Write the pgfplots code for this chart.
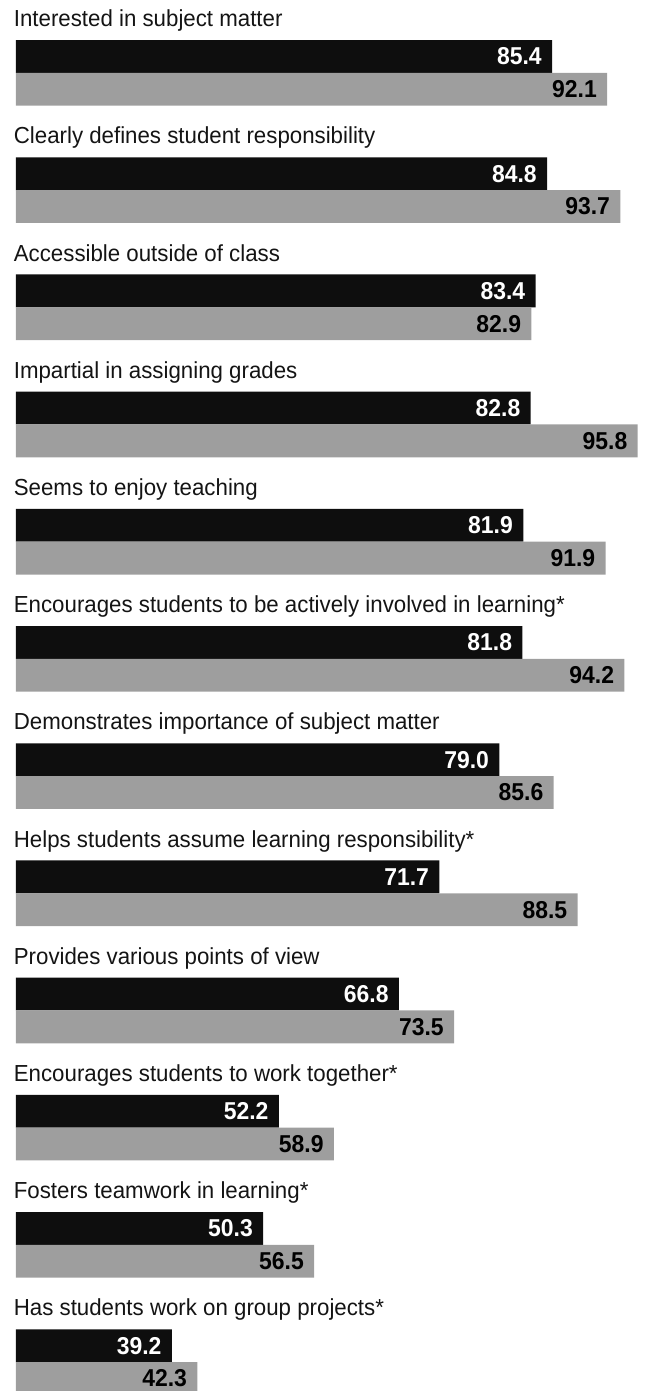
\documentclass[border=0pt]{standalone}
\usepackage{fontspec}
\setmainfont{Liberation Sans}
\newfontfamily\labfont{Liberation Sans}[FakeStretch=0.96]
\newfontfamily\numfont{Liberation Sans}[FakeStretch=0.94]
\usepackage{pgfplots}
\pgfplotsset{compat=1.18}
\definecolor{barblack}{HTML}{0E0E0E}
\definecolor{bargray}{HTML}{9E9E9E}
\definecolor{txt}{HTML}{141414}
\begin{document}
\begin{tikzpicture}
\begin{axis}[
    scale only axis,
    width=313.5pt, height=695.5pt,
    xbar, bar width=0.28,
    xmin=20.27, xmax=96.45,
    ymin=-0.482, ymax=11.387,
    y dir=reverse,
    xtick=\empty,
    ytick={0,...,11},
    yticklabels={
        Interested in subject matter,
        Clearly defines student responsibility,
        Accessible outside of class,
        Impartial in assigning grades,
        Seems to enjoy teaching,
        Encourages students to be actively involved in learning*,
        Demonstrates importance of subject matter,
        Helps students assume learning responsibility*,
        Provides various points of view,
        Encourages students to work together*,
        Fosters teamwork in learning*,
        Has students work on group projects*},
    yticklabel style={anchor=base west, inner sep=0pt, xshift=3pt, yshift=14.9pt,
        text=txt, font=\labfont\fontsize{11.6}{12}\selectfont},
    axis line style={draw=none},
    tick style={draw=none},
    point meta=x,
    nodes near coords,
    /pgf/number format/fixed,
    /pgf/number format/fixed zerofill,
    /pgf/number format/precision=1,
    /pgf/number format/assume math mode=true,
    every node near coord/.append style={anchor=east, inner sep=0pt, xshift=-5pt,
        font=\numfont\bfseries\fontsize{12.2}{12}\selectfont},
]
% black bars (first group)
\addplot+[bar shift=0, fill=barblack, draw=none,
    every node near coord/.append style={text=white}] coordinates {
    (85.4,0) (84.8,1) (83.4,2) (82.8,3) (81.9,4) (81.8,5)
    (79.0,6) (71.7,7) (66.8,8) (52.2,9) (50.3,10) (39.2,11)
};
% gray bars (second group)
\addplot+[bar shift=0.28, fill=bargray, draw=none,
    every node near coord/.append style={text=black}] coordinates {
    (92.1,0) (93.7,1) (82.9,2) (95.8,3) (91.9,4) (94.2,5)
    (85.6,6) (88.5,7) (73.5,8) (58.9,9) (56.5,10) (42.3,11)
};
\end{axis}
\path ([xshift=-8pt]current axis.north west) rectangle (current axis.south west);
\end{tikzpicture}
\end{document}
